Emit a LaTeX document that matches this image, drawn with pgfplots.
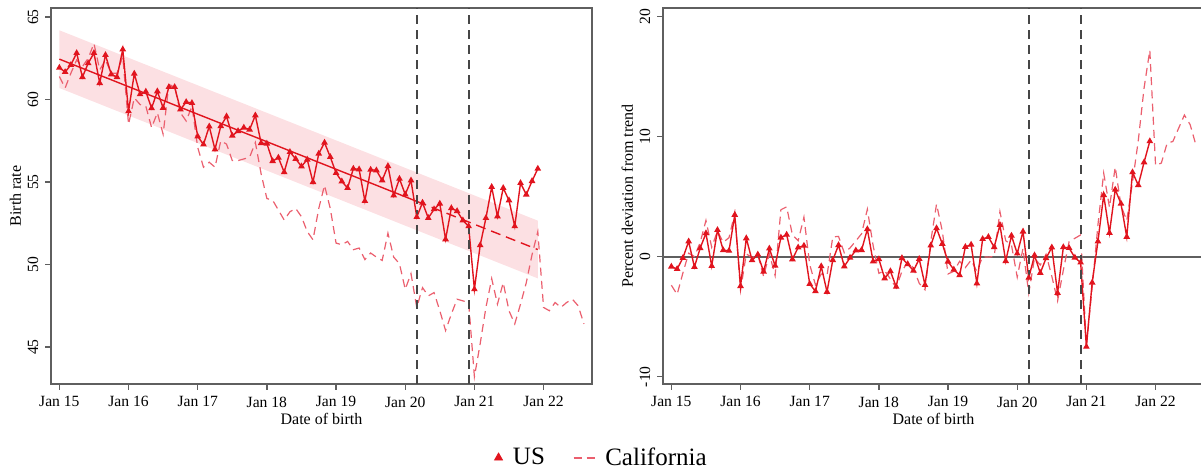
\documentclass[border=0pt]{standalone}
\usepackage{fontspec}
\setmainfont{Liberation Serif}
\usepackage{pgfplots}
\pgfplotsset{compat=1.18}
\usepackage{pgfplotstable}

\definecolor{usred}{RGB}{225,20,30}
\definecolor{cared}{RGB}{235,95,110}
\definecolor{bandpink}{RGB}{252,224,227}
\definecolor{axgray}{RGB}{95,95,95}
\definecolor{vgray}{RGB}{70,70,70}

\pgfplotstableread{
m us dev
0 61.93 -0.83
1 61.67 -1.03
2 62.10 -0.11
3 62.82 1.27
4 61.36 -0.86
5 62.20 0.71
6 62.82 1.95
7 61.00 -0.78
8 62.70 2.22
9 61.53 0.54
10 61.36 0.49
11 63.04 3.48
12 59.29 -2.45
13 61.57 1.53
14 60.32 -0.30
15 60.48 0.18
16 59.48 -1.25
17 60.50 0.68
18 59.50 -0.75
19 60.76 1.59
20 60.76 1.83
21 59.40 -0.22
22 59.85 0.77
23 59.79 0.91
24 57.77 -2.27
25 57.28 -2.88
26 58.37 -0.80
27 56.98 -2.93
28 58.39 -0.29
29 58.98 0.96
30 57.81 -0.81
31 58.09 -0.09
32 58.30 0.52
33 58.18 0.55
34 59.04 2.29
35 57.36 -0.40
36 57.33 -0.21
37 56.27 -1.81
38 56.48 -1.21
39 55.60 -2.51
40 56.82 -0.12
41 56.40 -0.62
42 55.95 -1.17
43 56.36 -0.19
44 55.00 -2.36
45 56.72 0.93
46 57.39 2.37
47 56.52 1.07
48 55.55 -0.41
49 55.04 -1.08
50 54.64 -1.55
51 55.81 0.81
52 55.77 1.00
53 53.85 -2.23
54 55.75 1.47
55 55.71 1.64
56 55.10 0.79
57 55.97 2.64
58 54.19 -0.37
59 55.20 1.75
60 54.25 0.26
61 55.10 2.09
62 52.88 -1.76
63 53.75 0.11
64 52.82 -1.36
65 53.35 -0.13
66 53.69 0.77
67 51.53 -3.03
68 53.42 0.79
69 53.24 0.72
70 52.68 -0.08
71 52.32 -0.49
72 48.50 -7.51
73 51.17 -2.16
74 52.82 1.27
75 54.70 5.13
76 52.92 1.98
77 54.64 5.58
78 53.89 4.42
79 52.32 1.65
80 54.94 7.03
81 54.24 5.96
82 55.06 7.86
83 55.81 9.62
}\ustable

\pgfplotstableread{
m ca dev
0 61.4 -2.38
1 60.7 -3.15
2 61.6 -1.36
3 62.4 0.29
4 62.0 0.01
5 62.5 1.18
6 63.4 3.02
7 61.8 0.78
8 62.4 2.14
9 61.6 1.20
10 61.6 1.58
11 62.6 3.63
12 58.5 -2.81
13 60.1 0.23
14 59.7 -0.07
15 59.6 0.15
16 58.3 -1.65
17 59.2 0.24
18 57.9 -1.58
19 60.9 3.91
20 60.8 4.15
21 59.2 1.81
22 58.7 1.33
23 59.6 3.29
24 57.1 -0.66
25 55.9 -2.36
26 56.2 -1.44
27 55.9 -1.58
28 57.5 1.64
29 57.3 1.69
30 56.3 0.32
31 56.3 0.73
32 56.4 1.31
33 56.5 1.91
34 57.4 3.95
35 55.5 0.93
36 54.0 -1.39
37 53.9 -1.17
38 53.3 -1.86
39 52.7 -2.57
40 53.2 -1.23
41 53.4 -0.43
42 52.9 -0.95
43 52.0 -2.22
44 51.5 -2.76
45 53.4 1.27
46 54.8 4.38
47 53.4 2.14
48 51.3 -1.44
49 51.2 -1.22
50 51.4 -0.39
51 50.9 -0.91
52 51.0 -0.29
53 50.3 -1.22
54 50.7 0.00
55 50.45 -0.04
56 50.25 0.02
57 51.9 3.76
58 50.45 1.33
59 50.05 0.97
60 48.5 -1.70
61 49.45 0.69
62 47.4 -3.05
63 48.6 -0.12
64 48.1 -0.70
65 48.3 0.19
66 47.2 -1.63
67 46.0 -3.69
68 47.0 -1.12
69 47.9 1.25
70 47.8 1.53
71 47.7 1.81
72 43.2 -7.36
73 45.2 -2.59
74 47.4 2.64
75 49.15 6.96
76 47.6 4.11
77 48.9 7.47
78 47.2 4.26
79 46.4 3.00
80 47.6 6.20
81 48.9 9.67
82 50.6 14.04
83 52.0 17.20
84 47.4 7.60
85 47.2 7.80
86 47.7 9.45
87 47.4 9.60
88 47.7 10.70
89 47.9 11.80
90 47.5 11.00
91 46.4 9.30
}\catable

\pgfplotsset{
  panel/.style={
    scale only axis, width=270.5pt, height=188pt,
    xmin=-1.45, xmax=92.4,
    axis line style={axgray, line width=0.8pt},
    xtick={0,12,24,36,48,60,72,84},
    xticklabels={Jan 15,Jan 16,Jan 17,Jan 18,Jan 19,Jan 20,Jan 21,Jan 22},
    tick align=outside, major tick length=2.8pt,
    tick style={axgray, line width=0.7pt},
    xtick pos=bottom, ytick pos=left,
    ticklabel style={font=\fontsize{7.8}{9}\selectfont, text=black},
    yticklabel style={rotate=90, anchor=south},
    /pgf/number format/assume math mode=true,
    label style={font=\fontsize{8}{9}\selectfont},
    xlabel={Date of birth},
    xlabel style={at={(axis description cs:0.5,-0.092)}, anchor=center},
    ylabel style={at={(axis description cs:-0.066,0.5)}, anchor=center},
    clip=true,
  },
  usplot/.style={usred, line width=0.7pt, mark=triangle*, mark size=1.25pt, mark options={solid, fill=usred}},
  caplot/.style={cared, line width=0.6pt, dash pattern=on 4pt off 2.6pt},
  vline/.style={vgray, line width=1pt, dash pattern=on 4.5pt off 3pt, forget plot},
}

\begin{document}
\begin{tikzpicture}
\useasboundingbox (0,0) rectangle (600.5pt,235.5pt);

\begin{axis}[panel, at={(25.5pt,43.5pt)}, anchor=south west,
  ymin=42.76, ymax=65.55, ytick={45,50,55,60,65},
  ylabel={Birth rate}]
  \addplot[fill=bandpink, draw=none, forget plot] coordinates {(0,64.2) (83,52.66) (83,49.16) (0,60.7)} -- cycle;
  \addplot[caplot, forget plot] table[x=m, y=ca] {\catable};
  \addplot[usred, line width=0.7pt, forget plot] coordinates {(0,62.45) (62,53.83)};
  \addplot[usred, line width=0.7pt, dash pattern=on 5pt off 3pt, forget plot] coordinates {(62,53.83) (83,50.91)};
  \addplot[usplot, forget plot] table[x=m, y=us] {\ustable};
  \addplot[vline] coordinates {(62,42.76) (62,65.55)};
  \addplot[vline] coordinates {(71,42.76) (71,65.55)};
\end{axis}

\begin{axis}[panel, at={(331.5pt,43.5pt)}, anchor=south west,
  ymin=-10.61, ymax=20.72, ytick={-10,0,10,20},
  ylabel={Percent deviation from trend},
  legend style={at={(axis description cs:-0.112,-0.197)}, anchor=center,
    draw=none, fill=none, legend columns=2,
    font=\fontsize{12.5}{14}\selectfont,
    /tikz/every odd column/.append style={column sep=3pt},
    /tikz/every even column/.append style={column sep=12pt}},
  legend cell align=left]
  \addplot[axgray, line width=1pt, forget plot] coordinates {(-1.5,0) (93,0)};
  \addplot[caplot, forget plot] table[x=m, y=dev] {\catable};
  \addplot[usplot, forget plot] table[x=m, y=dev] {\ustable};
  \addplot[vline] coordinates {(62,-10.61) (62,20.72)};
  \addplot[vline] coordinates {(71,-10.61) (71,20.72)};
  \addlegendimage{legend image code/.code={\fill[usred] (2pt,-1pt) -- (6pt,-1pt) -- (4pt,2.5pt) -- cycle;}}
  \addlegendentry{US}
  \addlegendimage{legend image code/.code={\draw[cared, line width=0.6pt, dash pattern=on 4pt off 2.6pt] (0pt,0pt) -- (10.6pt,0pt);}}
  \addlegendentry{California}
\end{axis}
\end{tikzpicture}
\end{document}
